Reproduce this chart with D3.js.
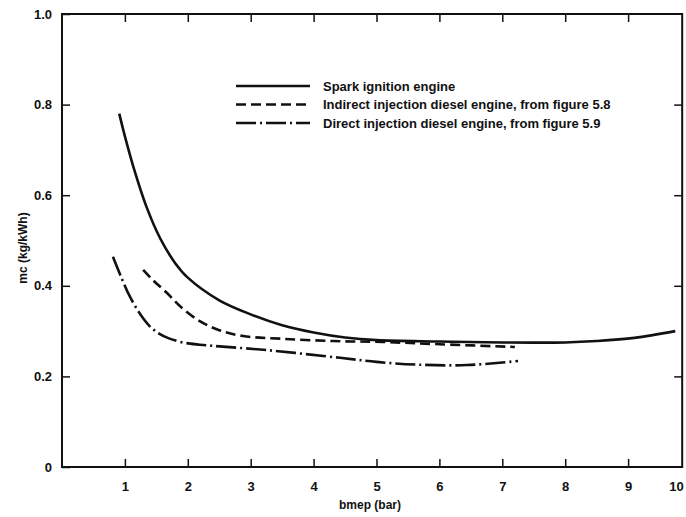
<!DOCTYPE html>
<html>
<head>
<meta charset="utf-8">
<script src="https://cdn.jsdelivr.net/npm/d3@7"></script>
<style>
  body { margin: 0; background: #fff; }
  svg { display: block; font-family: "Liberation Sans", Arial, sans-serif; }
</style>
</head>
<body>
<div id="chart"></div>
<script>
// data (bmep in bar, mc in kg/kWh)
const sparkBmep = [0.91, 1.0, 1.13, 1.35, 1.56, 1.8, 2.0, 2.5, 3.0, 3.5, 4.0, 4.5, 5.0, 6.0, 7.0, 8.0, 8.5, 9.1, 9.75];
const sparkMc   = [0.78, 0.73, 0.665, 0.572, 0.505, 0.45, 0.418, 0.368, 0.337, 0.313, 0.297, 0.286, 0.28, 0.277, 0.275, 0.275, 0.278, 0.285, 0.30];

const idiBmep = [1.29, 1.45, 1.67, 1.9, 2.19, 2.5, 2.88, 3.51, 4.31, 5.1, 6.0, 7.2];
const idiMc   = [0.435, 0.412, 0.384, 0.352, 0.322, 0.302, 0.289, 0.283, 0.278, 0.276, 0.271, 0.265];

const diBmep = [0.81, 0.95, 1.08, 1.25, 1.4, 1.55, 1.7, 1.92, 2.19, 3.26, 4.42, 5.0, 5.64, 6.44, 7.25];
const diMc   = [0.464, 0.416, 0.376, 0.336, 0.31, 0.294, 0.284, 0.275, 0.27, 0.258, 0.241, 0.232, 0.226, 0.225, 0.234];

const xTicks = [1, 2, 3, 4, 5, 6, 7, 8, 9, 10];
const yTicks = [0, 0.2, 0.4, 0.6, 0.8, 1.0];

const seriesNames = [
  "Spark ignition engine",
  "Indirect injection diesel engine, from figure 5.8",
  "Direct injection diesel engine, from figure 5.9"
];
const dashes = [null, "10,5", "20,4,2,4"];

const width = 686;
const height = 517;

const svg = d3.select("#chart")
  .append("svg")
  .attr("width", width)
  .attr("height", height);

const x = d3.scaleLinear()
  .domain([0, 10])
  .range([62, 691]);

const y = d3.scaleLinear()
  .domain([0, 1])
  .range([467, 14]);

const ink = "#111";
const xEnd = 9.86; // the scan is cropped just short of bmep 10

svg.append("rect")
  .attr("x", x(0))
  .attr("y", y(1))
  .attr("width", x(xEnd) - x(0))
  .attr("height", y(0) - y(1))
  .attr("fill", "none")
  .attr("stroke", ink)
  .attr("stroke-width", 2);

function xAxis(g) {
  g.attr("transform", `translate(0,${y(0)})`)
    .call(d3.axisBottom(x).tickValues(xTicks).tickSize(-8).tickPadding(15).tickFormat(d3.format("d")))
    .call(g => g.select(".domain").remove())
    .attr("font-size", "13px")
    .attr("font-weight", "bold")
    .attr("font-family", "Liberation Sans, Arial, sans-serif");
  g.selectAll("line").attr("stroke", ink).attr("stroke-width", 1.5);
  g.selectAll("text").attr("fill", ink);
  // keep the last label inside the window
  g.selectAll(".tick").filter(d => d === 10).select("text").attr("x", -15);
}

function xAxisTop(g) {
  g.attr("transform", `translate(0,${y(1)})`)
    .call(d3.axisTop(x).tickValues(xTicks.filter(d => d < xEnd)).tickSize(-8).tickFormat(""))
    .call(g => g.select(".domain").remove());
  g.selectAll("line").attr("stroke", ink).attr("stroke-width", 1.5);
}

function yAxis(g) {
  g.attr("transform", `translate(${x(0)},0)`)
    .call(d3.axisLeft(y).tickValues(yTicks).tickSize(-8).tickPadding(10)
      .tickFormat(d => d === 0 ? "0" : d3.format(".1f")(d)))
    .call(g => g.select(".domain").remove())
    .attr("font-size", "13px")
    .attr("font-weight", "bold")
    .attr("font-family", "Liberation Sans, Arial, sans-serif");
  g.selectAll("line").attr("stroke", ink).attr("stroke-width", 1.5);
  g.selectAll("text").attr("fill", ink);
}

function yAxisRight(g) {
  g.attr("transform", `translate(${x(xEnd)},0)`)
    .call(d3.axisRight(y).tickValues(yTicks.slice(1, 5)).tickSize(-8).tickFormat(""))
    .call(g => g.select(".domain").remove());
  g.selectAll("line").attr("stroke", ink).attr("stroke-width", 1.5);
}

function xAxisLabel(g) {
  g.append("text")
    .attr("x", 370)
    .attr("y", 509)
    .attr("text-anchor", "middle")
    .attr("font-size", "12px")
    .attr("font-weight", "bold")
    .attr("fill", ink)
    .text("bmep (bar)");
}

function yAxisLabel(g) {
  g.append("text")
    .attr("transform", "rotate(-90)")
    .attr("x", -248)
    .attr("y", 27)
    .attr("text-anchor", "middle")
    .attr("font-size", "12px")
    .attr("font-weight", "bold")
    .attr("fill", ink)
    .text("mc (kg/kWh)");
}

const line = d3.line()
  .x(d => x(d[0]))
  .y(d => y(d[1]))
  .curve(d3.curveCatmullRom.alpha(0.5));

const series = [
  d3.zip(sparkBmep, sparkMc),
  d3.zip(idiBmep, idiMc),
  d3.zip(diBmep, diMc)
];

function curves(g) {
  g.selectAll("path")
    .data(series)
    .join("path")
    .attr("d", line)
    .attr("fill", "none")
    .attr("stroke", ink)
    .attr("stroke-width", 2.6)
    .attr("stroke-dasharray", (d, i) => dashes[i]);
}

function legend(g) {
  const rows = g.selectAll("g")
    .data(seriesNames)
    .join("g")
    .attr("transform", (d, i) => `translate(236,${86 + i * 18.5})`);
  rows.append("line")
    .attr("x1", 0)
    .attr("x2", 74)
    .attr("stroke", ink)
    .attr("stroke-width", 2.6)
    .attr("stroke-dasharray", (d, i) => dashes[i]);
  rows.append("text")
    .attr("x", 87)
    .attr("dy", "0.35em")
    .attr("font-size", "13px")
    .attr("font-weight", "bold")
    .attr("fill", ink)
    .text(d => d);
}

svg.append("g").call(xAxis);
svg.append("g").call(xAxisTop);
svg.append("g").call(yAxis);
svg.append("g").call(yAxisRight);
svg.append("g").call(xAxisLabel);
svg.append("g").call(yAxisLabel);
svg.append("g").call(curves);
svg.append("g").call(legend);
</script>
</body>
</html>
